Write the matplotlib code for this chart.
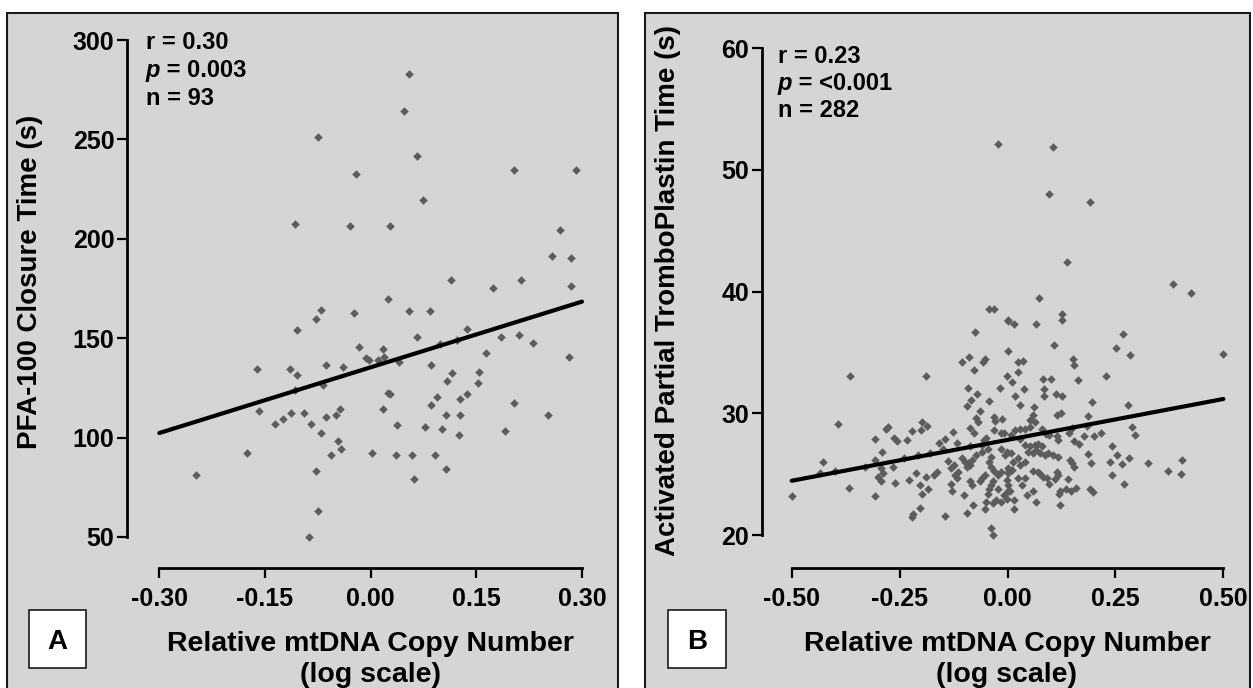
import matplotlib.pyplot as plt
import matplotlib.patches as patches
from matplotlib.text import Annotation

plt.rcParams['font.family'] = ['Liberation Sans', 'DejaVu Sans']
plt.rcParams['font.weight'] = 'bold'
plt.rcParams['axes.unicode_minus'] = False

# ---- panel A: PFA-100 closure time vs relative mtDNA copy number ----
a_x = [-0.075, -0.021, -0.107, -0.030,
       0.055, 0.047, 0.066, 0.204, 0.291, 0.074, 0.028, 0.269, 0.258, 0.285,
       0.114, 0.174, 0.214, 0.285,
       0.025, 0.054, 0.084, 0.137, 0.066, 0.185, 0.211, 0.230, 0.018, 0.010,
       0.019, 0.164, 0.281, 0.098, 0.123, 0.085, 0.115, 0.154, 0.108, 0.152,
       0.024, 0.027, 0.094, 0.085, 0.127, 0.137, 0.203, 0.017, 0.107, 0.127,
       0.252, 0.037, 0.077, 0.101, 0.126, 0.191, 0.002, 0.036, 0.058, 0.092,
       0.107, 0.062,
       -0.070, -0.077, -0.023, -0.105, -0.017, -0.007, -0.002, -0.161, -0.115,
       -0.105, -0.063, -0.039, -0.107, -0.067, -0.158, -0.136, -0.125, -0.113,
       -0.095, -0.084, -0.071, -0.063, -0.049, -0.044, -0.046, -0.042, -0.056,
       -0.176, -0.248, -0.078, -0.075, -0.088, 0.040]
a_y = [251, 232.5, 207.5, 206.5,
       283, 264.5, 241.5, 234.5, 234.5, 219.5, 206.5, 204.5, 191.5, 190.5,
       179.5, 175.5, 179.5, 176.5,
       169.9, 163.8, 163.8, 154.8, 150.8, 150.8, 151.6, 147.6, 144.7, 139.0,
       140.7, 142.7, 140.7, 146.9, 149.0, 136.7, 132.6, 132.8, 128.5, 127.6,
       122.6, 122.0, 120.6, 116.6, 119.6, 121.8, 117.6, 114.5, 111.5, 111.5,
       111.5, 106.5, 105.5, 104.5, 101.5, 103.5, 92.4, 91.4, 91.4, 91.4,
       84.4, 79.3,
       164.0, 159.8, 162.8, 154.0, 145.7, 140.0, 139.0, 134.7, 134.7,
       131.5, 136.7, 135.7, 124.0, 126.5, 113.6, 106.7, 109.5, 112.5,
       112.5, 106.7, 102.5, 110.5, 111.5, 114.5, 98.4, 94.3, 91.3,
       92.4, 81.2, 83.4, 63.1, 50.2, 138.0]
a_fit_x = [-0.30, 0.30]
a_fit_y = [102.3, 168.4]
a_xticks = [-0.30, -0.15, 0.00, 0.15, 0.30]
a_xtick_labels = ['-0.30', '-0.15', '0.00', '0.15', '0.30']
a_yticks = [50, 100, 150, 200, 250, 300]
a_stats = ['r = 0.30', '0.003', 'n = 93']

# ---- panel B: APTT vs relative mtDNA copy number ----
b_pts = [
    (-0.022, 52.15), (0.105, 51.9), (0.097, 48.0), (0.191, 47.4),
    (-0.042, 38.6), (-0.031, 38.6), (0.000, 37.6), (-0.075, 36.7), (0.000, 35.15),
    (-0.105, 34.2), (-0.089, 34.6), (-0.056, 34.2), (-0.052, 34.5), (-0.078, 33.6),
    (-0.364, 33.1), (-0.189, 33.1), (-0.001, 33.1), (-0.017, 32.1), (-0.092, 32.05),
    (-0.071, 31.6), (-0.085, 31.1), (-0.044, 31.0), (-0.095, 30.6), (-0.063, 30.2),
    (-0.073, 29.6), (-0.069, 29.3), (-0.031, 29.7), (-0.029, 29.4), (-0.012, 29.5),
    (-0.392, 29.1), (-0.198, 29.3), (-0.187, 29.0), (-0.201, 28.6), (-0.277, 28.9),
    (-0.282, 28.7), (-0.221, 28.55), (-0.087, 28.8), (-0.078, 28.4), (-0.031, 28.6),
    (-0.127, 28.5), (-0.307, 27.9), (-0.262, 28.0), (-0.256, 27.7), (-0.234, 27.85),
    (-0.158, 27.6), (-0.144, 27.9), (-0.116, 27.6), (-0.088, 27.3), (-0.055, 27.85),
    (-0.050, 28.0), (-0.016, 28.4), (-0.008, 28.4), (-0.150, 27.1), (-0.291, 26.85),
    (-0.208, 26.6), (-0.308, 26.2), (-0.427, 26.0), (-0.434, 25.1), (-0.265, 25.6),
    (-0.294, 25.5), (-0.288, 25.1), (-0.300, 24.8), (-0.292, 24.4), (-0.261, 24.3),
    (-0.229, 24.5), (-0.212, 25.1), (-0.203, 24.1), (-0.199, 23.4), (-0.185, 23.8),
    (-0.188, 24.8), (-0.170, 24.9), (-0.164, 25.15), (-0.139, 26.1), (-0.131, 25.5),
    (-0.125, 25.75), (-0.115, 25.2), (-0.121, 24.9), (-0.131, 24.2), (-0.129, 23.6),
    (-0.106, 26.3), (-0.098, 26.0), (-0.092, 25.9), (-0.087, 25.75), (-0.094, 25.6),
    (-0.083, 26.2), (-0.072, 26.6), (-0.117, 24.7), (-0.102, 23.3), (-0.094, 21.85),
    (-0.079, 22.5), (-0.145, 21.6), (-0.202, 22.2), (-0.222, 21.5), (-0.219, 21.7),
    (-0.307, 23.2), (-0.367, 23.9), (-0.499, 23.2), (-0.087, 24.4), (-0.083, 24.1),
    (-0.064, 24.4), (-0.060, 24.7), (-0.052, 24.9), (-0.043, 23.8), (-0.046, 23.4),
    (-0.049, 22.75), (-0.052, 22.15), (-0.034, 22.6), (-0.026, 22.9), (-0.038, 24.1),
    (-0.034, 24.4), (-0.023, 24.9), (-0.016, 25.15), (-0.038, 25.6), (-0.031, 25.3),
    (-0.043, 26.0), (-0.038, 26.4), (-0.060, 26.85), (-0.045, 27.1), (-0.016, 27.1),
    (-0.007, 26.6), (-0.038, 20.6), (-0.034, 20.0), (0.000, 24.1), (0.000, 23.6),
    (-0.016, 22.75), (-0.008, 23.3), (-0.023, 23.8), (0.002, 25.1), (0.002, 25.5),
    (0.137, 42.4), (0.384, 40.65), (0.424, 39.9), (0.073, 39.45), (0.002, 37.7),
    (0.016, 37.35), (0.065, 37.35), (0.127, 38.2), (0.127, 37.7), (0.268, 36.5),
    (0.251, 35.4), (0.284, 34.8), (0.499, 34.85), (0.107, 35.6), (0.151, 34.5),
    (0.153, 34.0), (0.025, 34.2), (0.036, 34.3), (0.024, 33.4), (0.010, 32.6),
    (0.083, 32.85), (0.101, 32.8), (0.164, 32.7), (0.228, 33.1), (0.039, 32.0),
    (0.084, 32.0), (0.085, 31.4), (0.017, 31.4), (0.112, 31.6), (0.127, 31.4),
    (0.195, 30.9), (0.280, 30.7), (0.029, 30.7), (0.062, 30.5), (0.059, 29.9),
    (0.052, 29.45), (0.064, 29.3), (0.114, 29.9), (0.125, 30.0), (0.186, 29.8),
    (0.183, 29.0), (0.288, 28.9), (0.295, 28.2), (0.143, 28.4), (0.176, 28.1),
    (0.201, 28.1), (0.216, 28.4), (0.155, 27.7), (0.166, 27.5), (0.017, 28.6),
    (0.029, 28.75), (0.040, 28.75), (0.052, 28.9), (0.009, 28.2), (0.079, 28.75),
    (0.095, 28.2), (0.114, 28.1), (0.118, 27.8), (0.040, 27.4), (0.052, 27.3),
    (0.064, 27.4), (0.071, 27.5), (0.079, 27.3), (0.048, 26.85), (0.060, 26.7),
    (0.067, 27.0), (0.075, 26.7), (0.087, 26.6), (0.025, 26.3), (0.013, 26.0),
    (0.029, 25.75), (0.040, 26.0), (0.093, 26.7), (0.106, 26.6), (0.118, 26.4),
    (0.009, 26.7), (-0.002, 26.85), (0.186, 26.65), (0.193, 25.9), (0.145, 26.2),
    (0.149, 25.9), (0.155, 25.6), (0.243, 27.3), (0.254, 26.6), (0.238, 26.0),
    (0.265, 25.8), (0.282, 26.3), (0.325, 25.9), (0.404, 26.2), (0.371, 25.25),
    (0.401, 25.0), (0.243, 24.9), (0.270, 24.2), (0.114, 25.2), (0.118, 24.9),
    (0.110, 24.6), (0.141, 24.6), (0.095, 24.2), (0.136, 23.8), (0.147, 23.65),
    (0.159, 23.9), (0.191, 23.8), (0.197, 23.5), (0.122, 23.65), (0.120, 23.4),
    (0.075, 25.0), (0.083, 24.8), (0.091, 24.7), (0.060, 25.3), (0.070, 25.15),
    (0.040, 24.7), (0.025, 24.7), (0.002, 25.2), (0.010, 25.35), (-0.002, 24.5),
    (0.034, 24.1), (0.006, 23.65), (-0.002, 23.0), (0.016, 22.85), (0.014, 22.1),
    (0.044, 23.3), (0.060, 23.65), (0.067, 22.75), (0.121, 22.5),
    (-0.400, 25.3), (-0.330, 25.6), (-0.240, 26.3), (-0.180, 26.7), (-0.060, 27.4),
    (0.030, 27.9), (0.090, 28.3), (0.150, 28.8),
]
b_x = [p[0] for p in b_pts]
b_y = [p[1] for p in b_pts]
b_fit_x = [-0.50, 0.50]
b_fit_y = [24.46, 31.18]
b_xticks = [-0.50, -0.25, 0.00, 0.25, 0.50]
b_xtick_labels = ['-0.50', '-0.25', '0.00', '0.25', '0.50']
b_yticks = [20, 30, 40, 50, 60]
b_stats = ['r = 0.23', '<0.001', 'n = 282']

W, H = 1253, 688
BG = '#d5d5d5'
PT = '#5c5c5c'
fig = plt.figure(figsize=(W / 100, H / 100), dpi=100)


def box(l, t, r, b):
    return [l / W, 1 - b / H, (r - l) / W, (b - t) / H]


def fx(x):
    return x / W


def fy(y):
    return 1 - y / H


# gray panels with dark frame (behind the axes)
for l, r in [(7, 618), (645, 1250)]:
    fig.patches.append(patches.Rectangle((fx(l), -0.05), (r - l) / W, fy(12.5) + 0.05,
                                         transform=fig.transFigure, facecolor=BG,
                                         edgecolor='#1a1a1a', lw=1.5, zorder=-5))


def style_axes(ax, xticks, xlabels, yticks, xb, yb):
    ax.set_facecolor('none')
    ax.spines['top'].set_visible(False)
    ax.spines['right'].set_visible(False)
    for s in ['left', 'bottom']:
        ax.spines[s].set_linewidth(2.0)
        ax.spines[s].set_color('black')
    ax.spines['bottom'].set_bounds(*xb)
    ax.spines['left'].set_bounds(*yb)
    ax.set_xticks(xticks)
    ax.set_xticklabels(xlabels)
    ax.set_yticks(yticks)
    ax.tick_params(axis='both', direction='out', length=7, width=1.6, labelsize=18,
                   colors='black')
    ax.tick_params(axis='x', pad=7)
    ax.tick_params(axis='y', pad=2)
    for lab in ax.get_xticklabels() + ax.get_yticklabels():
        lab.set_fontweight('bold')


# panel A axes
ax_a = fig.add_axes(box(127, 40, 592, 568))
ax_a.scatter(a_x, a_y, marker='D', s=19, color=PT, linewidths=0, zorder=2)
ax_a.plot(a_fit_x, a_fit_y, color='black', lw=3, solid_capstyle='round', zorder=3)
ax_a.set_xlim(-0.3459, 0.3142)
ax_a.set_ylim(34.4, 300)
style_axes(ax_a, a_xticks, a_xtick_labels, a_yticks, (-0.30, 0.30), (50, 300))

# panel B axes
ax_b = fig.add_axes(box(761.5, 48.3, 1232, 568))
ax_b.scatter(b_x, b_y, marker='D', s=19, color=PT, linewidths=0, zorder=2)
ax_b.plot(b_fit_x, b_fit_y, color='black', lw=3, solid_capstyle='round', zorder=3)
ax_b.set_xlim(-0.570, 0.520)
ax_b.set_ylim(17.29, 60)
style_axes(ax_b, b_xticks, b_xtick_labels, b_yticks, (-0.50, 0.50), (20, 60))


def stats(x, ys, lines):
    fig.text(fx(x), fy(ys[0]), lines[0], fontsize=17, fontweight='bold', va='baseline')
    t = fig.text(fx(x), fy(ys[1]), 'p', fontsize=17, fontweight='bold',
                 style='italic', va='baseline')
    rest = Annotation(' = ' + lines[1], xy=(1, 0), xycoords=t, fontsize=17,
                      fontweight='bold', va='bottom', ha='left')
    fig.add_artist(rest)
    fig.text(fx(x), fy(ys[2]), lines[2], fontsize=17, fontweight='bold', va='baseline')


stats(146, [49, 77, 105], a_stats)
stats(778, [63, 90, 117], b_stats)

# axis labels
fig.text(fx(30), fy(282), 'PFA-100 Closure Time (s)', rotation=90, fontsize=20,
         fontweight='bold', ha='center', va='center')
fig.text(fx(668), fy(291), 'Activated Partial TromboPlastin Time (s)', rotation=90,
         fontsize=20, fontweight='bold', ha='center', va='center')
for cx in [370, 1007]:
    fig.text(fx(cx), fy(651), 'Relative mtDNA Copy Number', fontsize=20.5,
             fontweight='bold', ha='center', va='baseline')
    fig.text(fx(cx), fy(682), '(log scale)', fontsize=20.5,
             fontweight='bold', ha='center', va='baseline')

# panel letters
for (l, t, r, b), letter in [((29, 610, 86, 668), 'A'), ((668, 610, 726, 668), 'B')]:
    fig.patches.append(patches.Rectangle((fx(l), fy(b)), (r - l) / W, (b - t) / H,
                                         transform=fig.transFigure, facecolor='white',
                                         edgecolor='#1a1a1a', lw=1.2, zorder=1))
    fig.text(fx((l + r) / 2), fy((t + b) / 2), letter, fontsize=20, fontweight='bold',
             ha='center', va='center_baseline', zorder=2)

fig.savefig('out.png', dpi=100)
